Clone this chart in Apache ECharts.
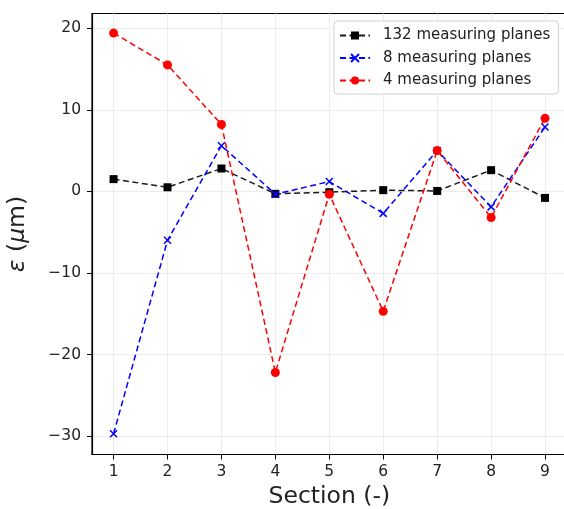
<!DOCTYPE html>
<html>
<head>
<meta charset="utf-8">
<script src="https://cdn.jsdelivr.net/npm/echarts@6/dist/echarts.min.js"></script>
<style>
  html, body { margin: 0; padding: 0; background: #fff; }
  #chart { width: 564px; height: 509px; }
</style>
</head>
<body>
<div id="chart"></div>
<script>
// Deformation per section for three measuring-plane configurations
const sections = [1, 2, 3, 4, 5, 6, 7, 8, 9];
const planes132 = [1.5, 0.5, 2.8, -0.3, -0.1, 0.15, 0.05, 2.6, -0.8];
const planes8 = [-29.7, -6.0, 5.6, -0.35, 1.2, -2.7, 5.0, -1.9, 7.9];
const planes4 = [19.4, 15.5, 8.2, -22.2, -0.35, -14.7, 5.0, -3.2, 8.95];
const seriesNames = ['132 measuring planes', '8 measuring planes', '4 measuring planes'];
const yTicks = [-30, -20, -10, 0, 10, 20];
const xTicks = [1, 2, 3, 4, 5, 6, 7, 8, 9];

const FONT = 'DejaVu Sans';
const pairs = vals => sections.map((s, i) => [s, vals[i]]);
const minusFmt = v => (v < 0 ? '\u2212' + (-v) : String(v));
const dash = [6, 3.5];

const chart = echarts.init(document.getElementById('chart'), null, { renderer: 'canvas' });

const gridLine = { show: true, lineStyle: { color: '#ececec', width: 1 } };

chart.setOption({
  animation: false,
  backgroundColor: '#fff',
  textStyle: { fontFamily: FONT },
  grid: {
    left: 92, top: 13.5, width: 474.6, height: 441,
    outerBoundsMode: 'none',
    containLabel: false,
    show: true, borderColor: '#000', borderWidth: 1.2, backgroundColor: 'transparent'
  },
  legend: {
    orient: 'vertical',
    left: 334, top: 21,
    padding: [7, 8, 6, 5],
    itemWidth: 30, itemHeight: 10, itemGap: 7.5,
    backgroundColor: '#fff',
    borderColor: '#d0d0d0', borderWidth: 1, borderRadius: 3,
    textStyle: { fontFamily: FONT, fontSize: 15, color: '#222', padding: [0, 0, 0, 8] },
    data: seriesNames
  },
  xAxis: {
    type: 'value',
    min: 0.6, max: 9.4,
    name: 'Section (-)',
    nameLocation: 'middle',
    nameGap: 30,
    nameTextStyle: { fontFamily: FONT, fontSize: 23.5, color: '#222' },
    axisLine: { show: true, onZero: false, lineStyle: { color: '#000', width: 1.2 } },
    axisTick: { show: true, customValues: xTicks, length: 5, lineStyle: { color: '#000', width: 1 } },
    axisLabel: { customValues: xTicks, margin: 9, fontFamily: FONT, fontSize: 15.5, color: '#222' },
    splitLine: gridLine
  },
  yAxis: {
    type: 'value',
    min: -32.25, max: 21.8,
    name: '{i|\u03B5} ({i|\u03BC}m)',
    nameLocation: 'middle',
    nameGap: 62,
    nameRotate: 90,
    nameTextStyle: {
      fontFamily: FONT, fontSize: 23.5, color: '#222',
      rich: { i: { fontFamily: FONT, fontSize: 23.5, fontStyle: 'italic', color: '#222' } }
    },
    axisLine: { show: true, onZero: false, lineStyle: { color: '#000', width: 1.2 } },
    axisTick: { show: true, customValues: yTicks, length: 5, lineStyle: { color: '#000', width: 1 } },
    axisLabel: { customValues: yTicks, margin: 11, fontFamily: FONT, fontSize: 15.5, color: '#222', formatter: minusFmt },
    splitLine: gridLine
  },
  series: [
    {
      name: seriesNames[0], type: 'line', data: pairs(planes132),
      symbol: 'rect', symbolSize: 8,
      itemStyle: { color: '#000' },
      lineStyle: { color: '#1a1a1a', width: 1.5, type: dash },
      z: 2
    },
    {
      name: seriesNames[1], type: 'line', data: pairs(planes8),
      symbol: 'path://M0,0L10,10M10,0L0,10', symbolSize: 7,
      itemStyle: { color: 'none', borderColor: '#0000ff', borderWidth: 1.5 },
      lineStyle: { color: '#0000ff', width: 1.5, type: dash },
      z: 3
    },
    {
      name: seriesNames[2], type: 'line', data: pairs(planes4),
      symbol: 'circle', symbolSize: 9,
      itemStyle: { color: '#ff0000' },
      lineStyle: { color: '#ff0000', width: 1.5, type: dash },
      z: 4
    }
  ]
});
</script>
</body>
</html>
